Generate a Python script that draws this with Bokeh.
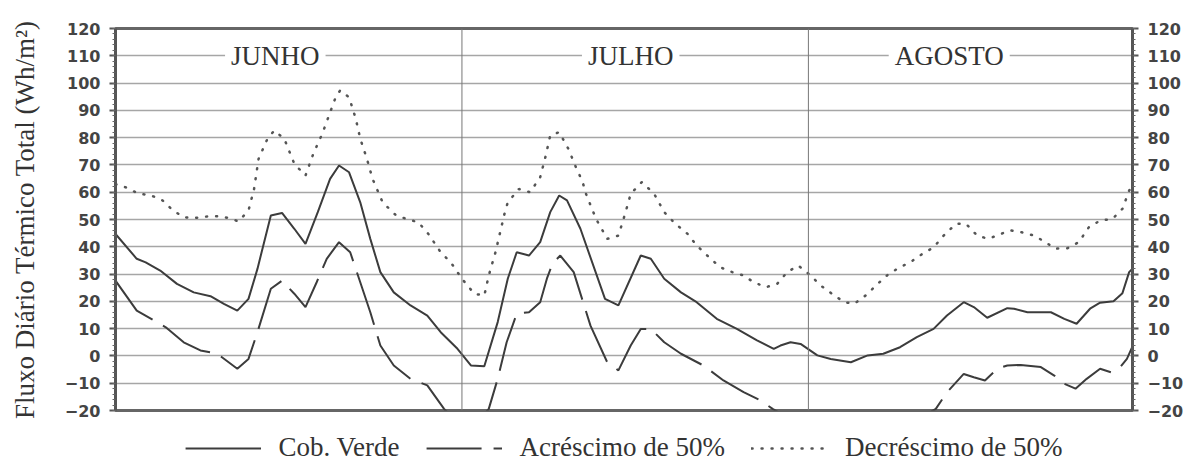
from bokeh.plotting import figure
from bokeh.models import (Range1d, LinearAxis, SingleIntervalTicker, Span, Label,
                          Legend, LegendItem)
from bokeh.embed import file_html
from bokeh.resources import INLINE

# Day of series (0 = 1 June) and daily total heat flux (Wh/m²)
dias_cob = [0, 1.9, 2.7, 4.0, 5.5, 7.0, 8.5, 9.7, 10.9, 11.9, 12.7, 13.9, 14.9, 16.0,
            17.0, 18.1, 19.2, 20.0, 20.9, 21.9, 22.8, 23.7, 24.9, 26.4, 27.9, 29.1,
            30.6, 31.8, 33.0, 34.2, 35.1, 35.9, 37.0, 38.0, 38.9, 39.7, 40.4, 41.6,
            43.8, 45.0, 47.0, 47.9, 49.1, 50.6, 52.0, 53.8, 55.6, 57.4, 58.9, 59.5,
            60.4, 61.3, 62.8, 64.0, 65.8, 67.3, 68.7, 70.2, 71.7, 73.2, 74.4, 75.9,
            76.8, 78.0, 79.8, 80.4, 81.6, 82.8, 83.7, 84.9, 86.0, 87.2, 88.1, 89.3,
            90.1, 90.7, 91.0]
cob_verde = [44.7, 35.6, 34.3, 31.3, 26.4, 23.3, 21.9, 19.1, 16.6, 20.9, 31.9, 51.5,
             52.4, 46.6, 41.1, 52.7, 64.9, 69.8, 67.3, 56.3, 42.9, 30.7, 23.3, 18.5,
             14.8, 8.7, 2.6, -3.5, -3.8, 12.4, 28.3, 38.0, 36.8, 41.7, 52.7, 58.8,
             57.0, 46.6, 20.9, 18.5, 36.8, 35.6, 28.3, 23.3, 19.7, 13.6, 9.9, 5.7,
             2.6, 3.8, 5.0, 4.4, 0.2, -1.1, -2.3, 0.2, 0.8, 3.2, 6.9, 9.9, 14.8, 19.7,
             17.9, 14.0, 17.5, 17.3, 16.0, 16.0, 16.0, 13.6, 11.8, 17.3, 19.5, 20.0,
             23.0, 30.7, 32.0]

dias_acr = [0, 1.9, 4.5, 6.1, 7.6, 9.1, 10.9, 11.9, 12.7, 13.9, 14.9, 16.0, 17.0,
            18.0, 18.9, 20.0, 21.0, 21.9, 22.8, 23.7, 24.9, 26.4, 27.9, 29.4, 30.6,
            32.0, 33.4, 34.2, 35.0, 35.9, 37.0, 38.0, 38.6, 39.1, 39.8, 41.0, 42.5,
            44.0, 45.0, 46.1, 47.0, 47.9, 49.1, 50.6, 52.6, 54.4, 56.2, 57.7, 58.8,
            60.5, 63.0, 66.0, 69.0, 71.5, 73.4, 74.4, 75.9, 76.8, 77.8, 78.9, 79.8,
            81.0, 82.8, 84.0, 84.9, 85.9, 86.9, 88.1, 89.1, 89.9, 90.5, 91.0]
acrescimo = [27.6, 16.6, 10.5, 5.0, 2.0, 0.8, -4.7, -1.1, 8.7, 24.6, 27.6, 22.8,
             17.9, 27.0, 35.6, 41.7, 38.0, 27.0, 16.0, 3.8, -3.5, -8.4, -10.8,
             -19.4, -24.5, -26.0, -19.4, -8.4, 5.0, 15.5, 16.0, 19.7, 28.3, 33.8,
             36.8, 30.7, 11.1, -2.3, -5.3, 3.8, 9.9, 9.9, 5.0, 0.8, -3.5, -9.0, -13.3,
             -16.3, -19.4, -23.5, -27.0, -28.0, -27.0, -24.0, -19.4, -13.3, -6.6,
             -7.8, -9.0, -4.7, -3.5, -3.3, -4.1, -7.2, -10.2, -12.0, -8.4, -4.7, -6.0,
             -4.1, -1.1, 3.5]

dias_dec = [0, 0.9, 2.1, 3.1, 4.2, 5.1, 6.1, 7.0, 8.2, 9.1, 10.1, 11.0, 11.9, 12.4,
            12.8, 13.6, 14.2, 15.1, 16.0, 17.0, 17.7, 18.5, 19.1, 19.7, 20.1, 20.9,
            21.5, 21.9, 22.5, 23.0, 23.9, 25.1, 26.2, 27.1, 28.0, 29.1, 30.0, 31.0,
            32.1, 33.0, 33.4, 34.0, 34.4, 34.8, 35.1, 36.1, 37.1, 38.0, 38.5, 38.9,
            39.7, 40.6, 41.0, 41.8, 42.1, 43.0, 44.0, 45.0, 45.6, 46.1, 47.1, 48.2,
            49.1, 50.1, 51.2, 52.0, 53.1, 54.1, 55.2, 56.2, 57.1, 58.2, 59.2, 60.1,
            61.1, 62.2, 63.1, 64.1, 65.2, 66.1, 67.1, 68.2, 69.2, 70.2, 71.1, 72.2,
            73.2, 74.1, 75.2, 76.1, 77.1, 78.1, 79.2, 80.1, 81.1, 82.2, 83.2, 84.1,
            85.2, 86.2, 87.1, 88.1, 89.2, 90.1, 90.7, 91.0]
decrescimo = [63.0, 61.8, 59.4, 59.0, 57.0, 53.5, 50.8, 50.5, 51.1, 51.2, 50.6, 49.3,
              53.3, 61.2, 72.2, 79.6, 82.6, 79.6, 70.4, 66.1, 74.1, 81.4, 88.1, 94.8,
              97.3, 94.8, 86.9, 79.6, 72.2, 64.9, 56.3, 51.5, 50.0, 49.0, 44.7, 38.0,
              34.3, 28.3, 22.8, 22.1, 29.5, 38.0, 45.0, 52.0, 56.3, 61.2, 60.0, 65.5,
              73.4, 80.8, 82.0, 75.3, 71.0, 63.7, 59.4, 50.2, 42.9, 44.1, 52.1, 59.4,
              63.7, 59.4, 52.7, 48.4, 44.7, 40.5, 36.2, 32.5, 30.7, 29.5, 27.0, 25.2,
              26.4, 30.7, 33.1, 29.5, 25.8, 22.8, 19.7, 19.1, 22.1, 26.4, 30.1, 32.5,
              34.3, 37.4, 39.8, 44.1, 48.4, 48.4, 44.1, 42.9, 44.7, 46.0, 45.3, 44.1,
              41.7, 39.3, 39.5, 41.7, 47.2, 49.6, 50.2, 53.9, 60.6, 62.4]

meses = ["JUNHO", "JULHO", "AGOSTO"]
meses_centro = [14.3, 46.1, 74.6]
divisao_meses = [31, 62]

SERIF = "Liberation Serif"
SANS = "DejaVu Sans"
TXT = "#333333"

p = figure(frame_width=1017, frame_height=382, output_backend="svg",
           toolbar_location=None, x_axis_type=None,
           x_range=Range1d(0, 91), y_range=Range1d(-20, 120),
           min_border_left=115, min_border_right=53, min_border_top=28,
           min_border_bottom=0)
p.outline_line_color = "#666666"
p.outline_line_width = 3
p.background_fill_color = "white"
p.border_fill_color = "white"

ticker = SingleIntervalTicker(interval=10, num_minor_ticks=5)


def style_axis(ax):
    ax.ticker = ticker
    ax.axis_line_color = "#555555"
    ax.axis_line_width = 3
    ax.major_tick_line_color = "#555555"
    ax.major_tick_line_width = 2
    ax.major_tick_in = 0
    ax.major_tick_out = 6
    ax.minor_tick_line_color = "#666666"
    ax.minor_tick_in = 0
    ax.minor_tick_out = 3
    ax.major_label_text_font = SANS
    ax.major_label_text_font_size = "16px"
    ax.major_label_text_font_style = "bold"
    ax.major_label_text_color = "#444444"
    ax.major_label_standoff = 9


yl = p.yaxis[0]
style_axis(yl)
yl.axis_label = "Fluxo Diário Térmico Total (Wh/m²)"
yl.axis_label_text_font = SERIF
yl.axis_label_text_font_size = "27px"
yl.axis_label_text_font_style = "normal"
yl.axis_label_text_color = TXT
yl.axis_label_standoff = 22

yr = LinearAxis()
style_axis(yr)
p.add_layout(yr, "right")

p.ygrid.ticker = ticker
p.ygrid.grid_line_color = "#a6a6a6"
p.ygrid.grid_line_width = 1.5

for d in divisao_meses:
    p.add_layout(Span(location=d, dimension="height", line_color="#777777",
                      line_width=1))

r_cob = p.line(dias_cob, cob_verde, line_color="#3c3c3c", line_width=2)
r_acr = p.line(dias_acr, acrescimo, line_color="#3c3c3c", line_width=2,
               line_dash="55 12")
r_dec = p.line(dias_dec, decrescimo, line_color="#555555", line_width=2.5,
               line_dash="1 9", line_cap="round")

for nome, xc in zip(meses, meses_centro):
    p.add_layout(Label(x=xc, y=110, text=nome, text_align="center",
                       text_baseline="middle", text_font=SERIF,
                       text_font_size="27px", text_color=TXT,
                       background_fill_color="white", padding=6))

legend = Legend(items=[LegendItem(label="Cob. Verde", renderers=[r_cob]),
                       LegendItem(label="Acréscimo de 50%", renderers=[r_acr]),
                       LegendItem(label="Decréscimo de 50%", renderers=[r_dec])],
                orientation="horizontal", location="top_center",
                label_text_font=SERIF, label_text_font_size="27px",
                label_text_color=TXT, glyph_width=76, glyph_height=20,
                label_standoff=18, spacing=26, padding=0, margin=22,
                border_line_color=None, background_fill_alpha=0)
p.add_layout(legend, "below")

open("out.html", "w").write(file_html(p, INLINE))
